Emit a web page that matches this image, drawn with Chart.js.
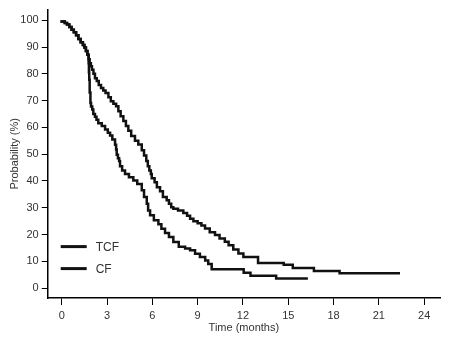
<!DOCTYPE html>
<html>
<head>
<meta charset="utf-8">
<script src="https://cdn.jsdelivr.net/npm/chart.js@4"></script>
<style>
  html, body { margin: 0; padding: 0; background: #fff; }
  #wrap { width: 456px; height: 361px; }
</style>
</head>
<body>
<div id="wrap"><canvas id="kmChart" width="456" height="361"></canvas></div>
<script>
// time (months) and survival probability (%)
const tcfTime = [0, 0.2, 0.35, 0.5, 0.65, 0.8, 0.95, 1.1, 1.25, 1.4, 1.5, 1.6, 1.7, 1.78, 1.85, 1.93, 2.0, 2.1, 2.2, 2.32, 2.45, 2.6, 2.75, 2.9, 3.09, 3.25, 3.42, 3.6, 3.75, 3.9, 4.08, 4.25, 4.41, 4.6, 4.85, 5.07, 5.3, 5.45, 5.6, 5.7, 5.8, 5.9, 5.96, 6.15, 6.3, 6.51, 6.7, 6.95, 7.1, 7.25, 7.39, 7.7, 8.05, 8.3, 8.5, 8.72, 9.0, 9.25, 9.49, 9.8, 10.15, 10.45, 10.8, 11.05, 11.36, 11.7, 12.03, 13.0, 14.7, 15.3, 16.7, 18.4, 22.2, 22.4];
const tcfSurv = [100, 99.6, 99, 98.4, 97.5, 96.5, 95.5, 94.4, 93, 91.8, 90.8, 89.8, 88.5, 87.1, 85.5, 84, 82.8, 81.5, 80, 78.4, 77.3, 75.8, 74.7, 73.8, 72.9, 71.3, 69.8, 68.8, 67.9, 66, 64.2, 62.4, 60.5, 58.8, 56.8, 55, 53.6, 51.5, 49.5, 47.5, 45.5, 43.9, 42.6, 41, 39.5, 37.7, 36.2, 34, 32.8, 31.5, 30.2, 29.6, 29, 28, 27, 25.9, 25, 24.2, 23.4, 22.3, 20.9, 19.8, 18.5, 17.3, 16, 14.4, 12.9, 11.6, 9.4, 8.7, 7.5, 6.4, 5.5, 5.5];

const cfTime = [0, 0.2, 0.35, 0.5, 0.65, 0.8, 0.95, 1.1, 1.25, 1.4, 1.5, 1.6, 1.7, 1.78, 1.8, 1.82, 1.85, 1.9, 1.94, 2.02, 2.09, 2.2, 2.3, 2.42, 2.65, 2.87, 3.05, 3.2, 3.35, 3.53, 3.6, 3.64, 3.72, 3.8, 3.86, 4.0, 4.19, 4.45, 4.74, 5.0, 5.3, 5.45, 5.63, 5.72, 5.85, 6.1, 6.4, 6.6, 6.84, 7.1, 7.39, 7.75, 8.17, 8.5, 8.83, 9.15, 9.5, 9.7, 9.93, 12.05, 12.5, 14.2, 16.3];
const cfSurv = [100, 99.6, 99, 98.4, 97.5, 96.5, 95.5, 94.4, 93, 91.8, 90.8, 89.8, 88.5, 87.1, 84, 80.5, 77.8, 73, 69.1, 67.8, 66.7, 65, 64, 62.9, 61.6, 60.5, 59.2, 58, 57, 55.5, 53.5, 51.8, 49.8, 48.5, 47.5, 45.5, 43.9, 42.6, 41.4, 40.2, 38.9, 36.5, 34, 31.5, 29, 27.2, 25.3, 23.8, 22.2, 20.6, 19.1, 17.2, 15.4, 14.8, 14.1, 12.8, 11.6, 10.3, 9.0, 7.0, 5.7, 4.6, 3.6];

const xTicks = [0, 3, 6, 9, 12, 15, 18, 21, 24];
const yTicks = [0, 10, 20, 30, 40, 50, 60, 70, 80, 90, 100];

const seriesNames = ["TCF", "CF"];

function toPoints(t, s) {
  return t.map((v, i) => ({ x: v, y: s[i] }));
}

const tickFont = { family: "Liberation Sans, Arial, sans-serif", size: 11 };
const textColor = "#333";

// legend drawn inside the plot, like the original
const insideLegend = {
  id: "insideLegend",
  afterDatasetsDraw(chart) {
    const ctx = chart.ctx;
    const area = chart.chartArea;
    ctx.save();
    chart.data.datasets.forEach((ds, i) => {
      const y = area.top + 237 + i * 22;
      ctx.strokeStyle = ds.borderColor;
      ctx.lineWidth = 3;
      ctx.beginPath();
      ctx.moveTo(area.left + 13, y);
      ctx.lineTo(area.left + 39, y);
      ctx.stroke();
      ctx.fillStyle = textColor;
      ctx.font = "12px 'Liberation Sans', Arial, sans-serif";
      ctx.textBaseline = "middle";
      ctx.fillText(ds.label, area.left + 48, y + 1);
    });
    ctx.restore();
  }
};

new Chart(document.getElementById("kmChart"), {
  type: "line",
  data: {
    datasets: [
      {
        label: seriesNames[0],
        data: toPoints(tcfTime, tcfSurv),
        borderColor: "#111",
        borderWidth: 2.5,
        stepped: "after",
        pointRadius: 0,
        fill: false
      },
      {
        label: seriesNames[1],
        data: toPoints(cfTime, cfSurv),
        borderColor: "#111",
        borderWidth: 2.5,
        stepped: "after",
        pointRadius: 0,
        fill: false
      }
    ]
  },
  options: {
    responsive: false,
    animation: false,
    layout: { padding: { top: 8, right: 16, bottom: 22, left: 4 } },
    plugins: {
      legend: { display: false },
      tooltip: { enabled: false }
    },
    scales: {
      x: {
        type: "linear",
        min: -0.93,
        max: 25.05,
        afterBuildTicks: (s) => { s.ticks = xTicks.map((v) => ({ value: v })); },
        afterFit: (s) => { s.height = 41; },
        border: { display: true, color: "#000", width: 1.5 },
        grid: { display: true, drawOnChartArea: false, drawTicks: true, tickLength: 7, color: "#000", lineWidth: 1 },
        ticks: { color: textColor, font: tickFont, padding: 4, maxRotation: 0, autoSkip: false },
        title: { display: true, text: "Time (months)", color: textColor, font: tickFont, padding: { top: 0, bottom: 4 } }
      },
      y: {
        type: "linear",
        min: -3.7,
        max: 104,
        afterBuildTicks: (s) => { s.ticks = yTicks.map((v) => ({ value: v })); },
        afterFit: (s) => { s.width = 43.7; },
        border: { display: true, color: "#000", width: 1.5 },
        grid: { display: true, drawOnChartArea: false, drawTicks: true, tickLength: 6, color: "#000", lineWidth: 1 },
        ticks: { color: textColor, font: tickFont, padding: 3, autoSkip: false },
        title: { display: true, text: "Probability (%)", color: textColor, font: tickFont, padding: { top: 4, bottom: 0 } }
      }
    }
  },
  plugins: [insideLegend]
});
</script>
</body>
</html>
